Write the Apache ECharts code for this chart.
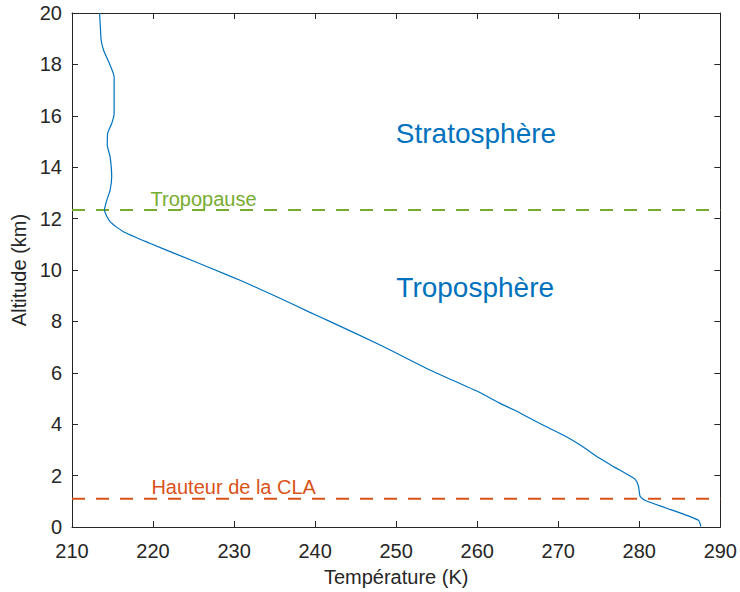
<!DOCTYPE html>
<html>
<head>
<meta charset="utf-8">
<script src="https://cdn.jsdelivr.net/npm/echarts@6/dist/echarts.min.js"></script>
<style>
html,body{margin:0;padding:0;background:#fff;}
#chart{width:740px;height:592px;}
</style>
</head>
<body>
<div id="chart"></div>
<script>
// Temperature profile (K) vs altitude (km)
const temperature = [287.6, 287.3, 285.2, 283.2, 280.7, 280.1, 279.9, 279.5, 278.5, 277.0, 275.0, 272.9, 270.9, 268.8, 266.8, 264.7, 262.7, 260.2, 254.1, 247.9, 241.8, 239.3, 235.2, 231.1, 227.0, 223.1, 219.6, 216.3, 214.7, 214.0, 214.3, 214.7, 214.9, 214.7, 214.35, 214.4, 214.9, 215.2, 215.2, 215.2, 214.7, 213.9, 213.6, 213.5, 213.4];
const altitude = [0.02, 0.26, 0.53, 0.75, 1.04, 1.20, 1.59, 1.85, 2.05, 2.32, 2.69, 3.15, 3.53, 3.86, 4.18, 4.53, 4.83, 5.25, 6.12, 7.10, 8.0, 8.36, 8.97, 9.55, 10.09, 10.59, 11.04, 11.50, 11.88, 12.34, 12.72, 13.11, 13.63, 14.41, 14.86, 15.32, 15.70, 16.09, 16.74, 17.51, 17.97, 18.55, 18.94, 19.45, 20.0];

const tropopauseAlt = 12.33;
const claAlt = 1.1;
const xRange = [210, 290];

const xTicks = [210, 220, 230, 240, 250, 260, 270, 280, 290];
const yTicks = [0, 2, 4, 6, 8, 10, 12, 14, 16, 18, 20];

// Annotation texts: [T, alt, text]
const regionLabels = [[259.85, 15.3, 'Stratosphère'], [259.75, 9.32, 'Troposphère']];
const tropoLabel = [[219.7, 12.76, 'Tropopause']];
const claLabel = [[219.8, 1.54, 'Hauteur de la CLA']];

const FONT = "'Liberation Sans', Arial, Helvetica, sans-serif";
const AX = '#262626';
const BLUE = '#0072BD', GREEN = '#77AC30', ORANGE = '#D95319';

const profile = temperature.map((t, i) => [t, altitude[i]]);

const chart = echarts.init(document.getElementById('chart'), null, {renderer: 'svg'});

const baseX = {
  type: 'value', min: xTicks[0], max: xTicks[xTicks.length - 1], interval: 10,
  splitLine: {show: false},
  axisLine: {show: true, onZero: false, lineStyle: {color: AX, width: 1}},
  axisTick: {show: true, inside: true, length: 6, lineStyle: {color: AX}},
};
const baseY = {
  type: 'value', min: yTicks[0], max: yTicks[yTicks.length - 1], interval: 2,
  splitLine: {show: false},
  axisLine: {show: true, onZero: false, lineStyle: {color: AX, width: 1}},
  axisTick: {show: true, inside: true, length: 6, lineStyle: {color: AX}},
};

function textSeries(data, pos, size, color) {
  return {
    type: 'scatter', data: data, symbolSize: 0, silent: true,
    itemStyle: {opacity: 1},
    label: {show: true, position: pos, distance: 0, formatter: p => p.data[2],
      fontFamily: FONT, fontSize: size, color: color, opacity: 1}
  };
}

chart.setOption({
  animation: false,
  backgroundColor: '#fff',
  textStyle: {fontFamily: FONT},
  grid: {left: 72, right: 18, top: 13, bottom: 64, containLabel: false},
  xAxis: [
    Object.assign({}, baseX, {
      position: 'bottom',
      name: 'Température (K)', nameLocation: 'middle', nameGap: 40,
      nameTextStyle: {fontFamily: FONT, fontSize: 20, color: AX},
      axisLabel: {show: true, margin: 14, fontFamily: FONT, fontSize: 20, color: AX}
    }),
    Object.assign({}, baseX, {position: 'top', axisLabel: {show: false}})
  ],
  yAxis: [
    Object.assign({}, baseY, {
      position: 'left',
      name: 'Altitude (km)', nameLocation: 'middle', nameGap: 41,
      nameTextStyle: {fontFamily: FONT, fontSize: 20, color: AX},
      axisLabel: {show: true, margin: 10, fontFamily: FONT, fontSize: 20, color: AX}
    }),
    Object.assign({}, baseY, {position: 'right', axisLabel: {show: false}})
  ],
  series: [
    {
      type: 'line', data: xRange.map(x => [x, tropopauseAlt]),
      symbol: 'none', silent: true,
      lineStyle: {color: GREEN, width: 2, type: [13, 11]}
    },
    {
      type: 'line', data: xRange.map(x => [x, claAlt]),
      symbol: 'none', silent: true,
      lineStyle: {color: ORANGE, width: 2, type: [13, 11]}
    },
    {
      type: 'line', data: profile, symbol: 'none',
      smooth: 0.2,
      lineStyle: {color: BLUE, width: 1.2}
    },
    textSeries(regionLabels, 'inside', 28, BLUE),
    textSeries(tropoLabel, 'right', 20, GREEN),
    textSeries(claLabel, 'right', 20, ORANGE)
  ]
});
</script>
</body>
</html>
